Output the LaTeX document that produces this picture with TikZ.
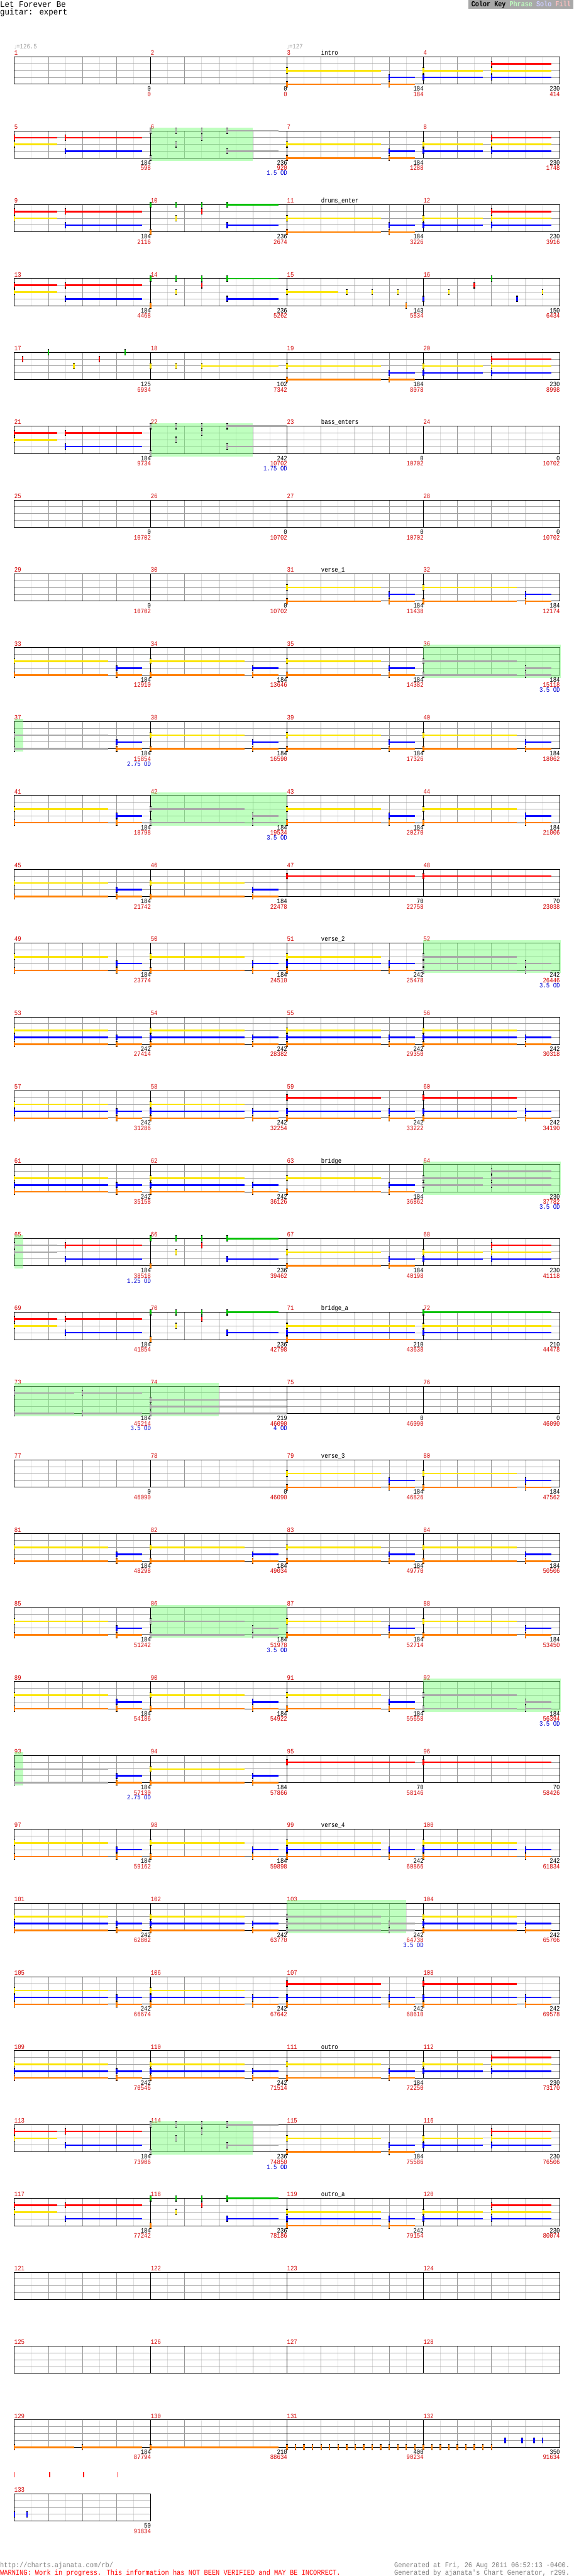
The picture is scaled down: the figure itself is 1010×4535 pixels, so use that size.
\documentclass[tikz,border=0pt]{standalone}
\usepackage{fontspec}
\setmainfont{Liberation Mono}
\newfontfamily\cf[FakeStretch=0.83]{Liberation Mono}
\newfontfamily\ff[FakeStretch=0.88]{Liberation Mono}
\newfontfamily\tf[FakeStretch=0.92]{Liberation Mono}
\newfontfamily\djv{DejaVu Sans}
\definecolor{nG}{RGB}{0,192,0}
\definecolor{nR}{RGB}{255,0,0}
\definecolor{nY}{RGB}{250,228,0}
\definecolor{nB}{RGB}{0,0,255}
\definecolor{nO}{RGB}{255,128,0}
\definecolor{kK}{RGB}{168,168,168}
\colorlet{kG}{kK}\colorlet{kR}{kK}\colorlet{kY}{kK}\colorlet{kB}{kK}\colorlet{kO}{kK}
\definecolor{gridD}{RGB}{150,150,150}
\definecolor{gridL}{RGB}{222,222,222}
\definecolor{strL}{RGB}{160,160,160}
\definecolor{numR}{RGB}{210,0,0}
\definecolor{odB}{RGB}{0,0,210}
\definecolor{tickR}{RGB}{255,0,0}
\definecolor{phr}{RGB}{128,255,128}
\definecolor{keyP}{RGB}{192,255,192}
\definecolor{keyS}{RGB}{205,205,255}
\definecolor{keyF}{RGB}{255,192,192}
\definecolor{tempoG}{RGB}{160,160,160}
\definecolor{footG}{RGB}{128,128,128}
\tikzset{
  mnum/.style={font=\cf\fontsize{12}{12}\selectfont, text=numR, anchor=base west, inner sep=0pt},
  numf/.style={font=\cf\fontsize{12}{12}\selectfont, anchor=base east, inner sep=0pt},
  seclab/.style={font=\cf\fontsize{12}{12}\selectfont, text=black, anchor=base west, inner sep=0pt},
  footf/.style={font=\ff\fontsize{13}{13}\selectfont, inner sep=0pt},
}
% note: row, col, lane, start beat, end beat, colour
\newcommand\nt[6]{%
  \pgfmathsetmacro\ntxa{25.2+240.1*#2+60.025*#4}%
  \pgfmathsetmacro\ntxb{25.2+240.1*#2+60.025*#5}%
  \pgfmathsetmacro\ntyy{100.3+130*#1+12*#3}%
  \fill[#6] (\ntxa,\ntyy-1.4) rectangle (\ntxb,\ntyy+1.4);%
  \fill[black] (\ntxa-1.3,\ntyy-5.4) rectangle (\ntxa+1.3,\ntyy+5.4);%
  \fill[#6] (\ntxa-1.3,\ntyy-4.2) rectangle (\ntxa+1.3,\ntyy+4.2);%
}
\newcommand\pA[3]{\nt{#1}{#2}{2}{0}{2.75}{#3Y}\nt{#1}{#2}{4}{0}{2.75}{#3O}\nt{#1}{#2}{3}{3}{3.75}{#3B}\nt{#1}{#2}{4}{3}{3.75}{#3O}}
\newcommand\pB[3]{\nt{#1}{#2}{2}{0}{1.75}{#3Y}\nt{#1}{#2}{3}{0}{1.75}{#3B}\nt{#1}{#2}{1}{2}{3.75}{#3R}\nt{#1}{#2}{2}{2}{3.75}{#3Y}\nt{#1}{#2}{3}{2}{3.75}{#3B}}
\newcommand\pC[3]{\nt{#1}{#2}{1}{0}{1.25}{#3R}\nt{#1}{#2}{2}{0}{1.25}{#3Y}\nt{#1}{#2}{1}{1.5}{3.75}{#3R}\nt{#1}{#2}{3}{1.5}{3.75}{#3B}}
\newcommand\pD[4]{\nt{#1}{#2}{0}{0}{0}{#3G}\nt{#1}{#2}{4}{0}{0}{#3O}\nt{#1}{#2}{0}{0.75}{0.75}{#3G}\nt{#1}{#2}{2}{0.75}{0.75}{#3Y}\nt{#1}{#2}{0}{1.5}{1.5}{#3G}\nt{#1}{#2}{1}{1.5}{1.5}{#3R}\nt{#1}{#2}{0}{2.25}{#4}{#3G}\nt{#1}{#2}{3}{2.25}{#4}{#3B}}
\newcommand\pE[3]{\pA{#1}{#2}{#3}\nt{#1}{#2}{3}{0}{2.75}{#3B}}
\newcommand\pF[3]{\nt{#1}{#2}{1}{0}{2.75}{#3R}\nt{#1}{#2}{3}{0}{2.75}{#3B}\nt{#1}{#2}{4}{0}{2.75}{#3O}\nt{#1}{#2}{3}{3}{3.75}{#3B}\nt{#1}{#2}{4}{3}{3.75}{#3O}}
\newcommand\pR[2]{\nt{#1}{#2}{1}{0}{3.75}{nR}}
% phrase highlight: row, col, start beat, end beat
\newcommand\ph[4]{%
  \pgfmathsetmacro\phxa{25.2+240.1*#2+60.025*#3}%
  \pgfmathsetmacro\phxb{25.2+240.1*#2+60.025*#4}%
  \pgfmathsetmacro\phy{100.3+130*#1}%
  \fill[phr,fill opacity=0.5] (\phxa,\phy-5.3) rectangle (\phxb,\phy+53);%
}
% numbers under measure end: row, col, black, red, od
\newcommand\nums[5]{%
  \pgfmathsetmacro\nmx{25.2+240.1*(#2+1)+0.6}%
  \pgfmathsetmacro\nmy{160.5+130*#1}%
  \node[numf] at (\nmx,\nmy) {#3};%
  \node[numf,text=numR] at (\nmx,\nmy+9.5) {#4};%
  \if\relax\detokenize{#5}\relax\else\node[numf,text=odB] at (\nmx,\nmy+18.2) {#5};\fi
}
\newcommand\slab[3]{\node[seclab] at (25.2+240.1*#2+60,97.3+130*#1) {#3};}
\newcommand\ticksfull{25.1,87.6,147.5,207.4,265.4,327.9,387.8,447.7,505.6,567.5,628.0,687.9,745.9,807.7,867.0,927.5}
% row frame: row, number of measures, tick list
\newcommand\rowfr[3]{%
  \pgfmathsetmacro\ryt{100.3+130*#1}%
  \pgfmathsetmacro\ryb{148.3+130*#1}%
  \pgfmathsetmacro\rytk{62.3+130*#1}%
  \pgfmathsetmacro\rxe{25.2+240.1*#2}%
  \pgfmathtruncatemacro\rnb{4*#2}%
  \pgfmathtruncatemacro\rnm{#2-1}%
  \foreach \tx in {#3} {\fill[tickR] (\tx-0.9,\rytk) rectangle (\tx+0.9,\rytk+8.4);}%
  \foreach \k in {1,...,\rnb} {\draw[gridL,line width=1pt] (25.2+60.025*\k-30.0125,\ryt) -- (25.2+60.025*\k-30.0125,\ryb);}%
  \foreach \k in {1,...,\rnb} {\draw[gridD,line width=1pt] (25.2+60.025*\k,\ryt) -- (25.2+60.025*\k,\ryb);}%
  \foreach \s in {12,24,36} {\draw[strL,line width=1pt] (25.2,\ryt+\s) -- (\rxe,\ryt+\s);}%
  \foreach \k in {0,...,\rnm} {%
    \pgfmathtruncatemacro\rmm{4*#1+\k+1}%
    \draw[black,line width=1pt] (25.2+240.1*\k,\ryt) -- (25.2+240.1*\k,\ryb);%
    \node[mnum] at (25.2+240.1*\k,97.3+130*#1) {\rmm};}%
  \draw[black,line width=1pt] (25.2,\ryt) rectangle (\rxe,\ryb);%
}
\begin{document}
\begin{tikzpicture}[x=1pt,y=-1pt]
\useasboundingbox (0,0) rectangle (1010,4535);
\fill[white] (0,0) rectangle (1010,4535);
% title and key
\node[font=\tf\fontsize{15}{15}\selectfont, anchor=base west, inner sep=0pt] (title) at (0,12.5) {Let Forever Be};
\node[font=\tf\fontsize{15}{15}\selectfont, anchor=base west, inner sep=0pt] (sub) at (0,26.3) {guitar: expert};
\fill[kK] (825,0) rectangle (1010,15.7);
\node[font=\cf\bfseries\fontsize{13.5}{13.5}\selectfont, anchor=base west, inner sep=0pt] (key) at (830,11.5) {Color Key \textcolor{keyP}{Phrase} \textcolor{keyS}{Solo} \textcolor{keyF}{Fill}};
% frames
\foreach \r in {0,...,32} {\rowfr{\r}{4}{\ticksfull}}
\rowfr{33}{1}{25.1,87.6,147.5,207.4}
% tempo
\node[font=\cf\fontsize{12}{12}\selectfont, text=tempoG, anchor=base west, inner sep=0pt] (t1) at (25.2,86) {{\djv\fontsize{8}{8}\selectfont ♩}=126.5};
\node[font=\cf\fontsize{12}{12}\selectfont, text=tempoG, anchor=base west, inner sep=0pt] (t2) at (505.4,86) {{\djv\fontsize{8}{8}\selectfont ♩}=127};
% section labels
\slab{0}{2}{intro}
\slab{2}{2}{drums\_enter}
\slab{5}{2}{bass\_enters}
\slab{7}{2}{verse\_1}
\slab{12}{2}{verse\_2}
\slab{15}{2}{bridge}
\slab{17}{2}{bridge\_a}
\slab{19}{2}{verse\_3}
\slab{24}{2}{verse\_4}
\slab{27}{2}{outro}
\slab{29}{2}{outro\_a}
% phrases
\ph{1}{1}{0}{3}
\ph{5}{1}{0}{3}
\ph{8}{3}{0}{4.03}
\ph{9}{0}{0}{0.27}
\ph{10}{1}{0}{4}
\ph{12}{3}{0}{4.03}
\ph{15}{3}{0}{4.03}
\ph{16}{0}{0}{0.27}
\ph{18}{0}{0}{4}\ph{18}{1}{0}{2}
\ph{21}{1}{0}{4}
\ph{22}{3}{0}{4.03}
\ph{23}{0}{0}{0.27}
\ph{25}{2}{0}{3.5}
\ph{28}{1}{0}{3}
% notes
\pA{0}{2}{n}\pB{0}{3}{n}
\pC{1}{0}{n}\pD{1}{1}{k}{3.75}\pA{1}{2}{n}\pB{1}{3}{n}
\pC{2}{0}{n}\pD{2}{1}{n}{3.75}\pA{2}{2}{n}\pB{2}{3}{n}
\pC{3}{0}{n}\pD{3}{1}{n}{3.75}
\nt{3}{2}{2}{0}{1.5}{nY}\nt{3}{2}{2}{1.75}{1.75}{nY}\nt{3}{2}{2}{2.5}{2.5}{nY}\nt{3}{2}{2}{3.25}{3.25}{nY}\nt{3}{2}{4}{3.5}{3.5}{nO}
\nt{3}{3}{3}{0}{0}{nB}\nt{3}{3}{2}{0.75}{0.75}{nY}\nt{3}{3}{1}{1.5}{1.5}{nR}\nt{3}{3}{0}{2}{2}{nG}\nt{3}{3}{3}{2.75}{2.75}{nB}\nt{3}{3}{2}{3.5}{3.5}{nY}
\nt{4}{0}{1}{0.25}{0.25}{nR}\nt{4}{0}{0}{1}{1}{nG}\nt{4}{0}{2}{1.75}{1.75}{nY}\nt{4}{0}{1}{2.5}{2.5}{nR}\nt{4}{0}{0}{3.25}{3.25}{nG}
\nt{4}{1}{2}{0}{0}{nY}\nt{4}{1}{2}{0.75}{0.75}{nY}\nt{4}{1}{2}{1.5}{3.75}{nY}
\pA{4}{2}{n}\pB{4}{3}{n}
\pC{5}{0}{n}\pD{5}{1}{k}{4}
\pA{7}{2}{n}\pA{7}{3}{n}
\pA{8}{0}{n}\pA{8}{1}{n}\pA{8}{2}{n}\pA{8}{3}{k}
\nt{9}{0}{2}{0}{2.75}{kY}\nt{9}{0}{4}{0}{2.75}{kO}\nt{9}{0}{3}{3}{3.75}{nB}\nt{9}{0}{4}{3}{3.75}{nO}
\pA{9}{1}{n}\pA{9}{2}{n}\pA{9}{3}{n}
\pA{10}{0}{n}\pA{10}{1}{k}\pA{10}{2}{n}\pA{10}{3}{n}
\pA{11}{0}{n}\pA{11}{1}{n}\pR{11}{2}\pR{11}{3}
\pA{12}{0}{n}\pA{12}{1}{n}\pE{12}{2}{n}\pE{12}{3}{k}
\pE{13}{0}{n}\pE{13}{1}{n}\pE{13}{2}{n}\pE{13}{3}{n}
\pE{14}{0}{n}\pE{14}{1}{n}\pF{14}{2}{n}\pF{14}{3}{n}
\pE{15}{0}{n}\pE{15}{1}{n}\pA{15}{2}{n}\pB{15}{3}{k}
\nt{16}{0}{1}{0}{1.25}{kR}\nt{16}{0}{2}{0}{1.25}{kY}\nt{16}{0}{1}{1.5}{3.75}{nR}\nt{16}{0}{3}{1.5}{3.75}{nB}
\pD{16}{1}{n}{3.75}\pA{16}{2}{n}\pB{16}{3}{n}
\pC{17}{0}{n}\pD{17}{1}{n}{3.75}
\nt{17}{2}{2}{0}{3.75}{nY}\nt{17}{2}{3}{0}{3.75}{nB}\nt{17}{2}{4}{0}{3.75}{nO}
\nt{17}{3}{0}{0}{3.75}{nG}\nt{17}{3}{2}{0}{3.75}{nY}\nt{17}{3}{3}{0}{3.75}{nB}
\nt{18}{0}{1}{0}{1.75}{kR}\nt{18}{0}{4}{0}{1.75}{kO}\nt{18}{0}{1}{2}{3.75}{kR}\nt{18}{0}{4}{2}{3.75}{kO}
\nt{18}{1}{2}{0}{4}{kY}\nt{18}{1}{3}{0}{4}{kB}\nt{18}{1}{4}{0}{4}{kO}
\pA{19}{2}{n}\pA{19}{3}{n}
\pA{20}{0}{n}\pA{20}{1}{n}\pA{20}{2}{n}\pA{20}{3}{n}
\pA{21}{0}{n}\pA{21}{1}{k}\pA{21}{2}{n}\pA{21}{3}{n}
\pA{22}{0}{n}\pA{22}{1}{n}\pA{22}{2}{n}\pA{22}{3}{k}
\nt{23}{0}{2}{0}{2.75}{kY}\nt{23}{0}{4}{0}{2.75}{kO}\nt{23}{0}{3}{3}{3.75}{nB}\nt{23}{0}{4}{3}{3.75}{nO}
\pA{23}{1}{n}\pR{23}{2}\pR{23}{3}
\pA{24}{0}{n}\pA{24}{1}{n}\pE{24}{2}{n}\pE{24}{3}{n}
\pE{25}{0}{n}\pE{25}{1}{n}\pE{25}{2}{k}\pE{25}{3}{n}
\pE{26}{0}{n}\pE{26}{1}{n}\pF{26}{2}{n}\pF{26}{3}{n}
\pE{27}{0}{n}\pE{27}{1}{n}\pA{27}{2}{n}\pB{27}{3}{n}
\pC{28}{0}{n}\pD{28}{1}{k}{3.75}\pA{28}{2}{n}\pB{28}{3}{n}
\pC{29}{0}{n}\pD{29}{1}{n}{3.75}\pE{29}{2}{n}\pB{29}{3}{n}
% row 32
\nt{32}{0}{4}{0}{1.75}{nO}\nt{32}{0}{4}{2}{3.75}{nO}\nt{32}{1}{4}{0}{3.75}{nO}
\foreach \q in {0,0.25,...,4.9} {\nt{32}{2}{4}{\q}{\q}{nO}}
\foreach \q in {0,0.25,...,2.1} {\nt{32}{3}{4}{\q}{\q}{nO}}
\foreach \q in {2.4,2.9,3.25,3.5} {\nt{32}{3}{3}{\q}{\q}{nB}}
\nt{33}{0}{3}{0}{0}{nB}\nt{33}{0}{3}{0.375}{0.375}{nB}
% numbers
\nums{0}{0}{0}{0}{}\nums{0}{1}{0}{0}{}\nums{0}{2}{184}{184}{}\nums{0}{3}{230}{414}{}
\nums{1}{0}{184}{598}{}\nums{1}{1}{236}{920}{1.5 OD}\nums{1}{2}{184}{1288}{}\nums{1}{3}{230}{1748}{}
\nums{2}{0}{184}{2116}{}\nums{2}{1}{236}{2674}{}\nums{2}{2}{184}{3226}{}\nums{2}{3}{230}{3916}{}
\nums{3}{0}{184}{4468}{}\nums{3}{1}{236}{5262}{}\nums{3}{2}{143}{5834}{}\nums{3}{3}{150}{6434}{}
\nums{4}{0}{125}{6934}{}\nums{4}{1}{102}{7342}{}\nums{4}{2}{184}{8078}{}\nums{4}{3}{230}{8998}{}
\nums{5}{0}{184}{9734}{}\nums{5}{1}{242}{10702}{1.75 OD}\nums{5}{2}{0}{10702}{}\nums{5}{3}{0}{10702}{}
\nums{6}{0}{0}{10702}{}\nums{6}{1}{0}{10702}{}\nums{6}{2}{0}{10702}{}\nums{6}{3}{0}{10702}{}
\nums{7}{0}{0}{10702}{}\nums{7}{1}{0}{10702}{}\nums{7}{2}{184}{11438}{}\nums{7}{3}{184}{12174}{}
\nums{8}{0}{184}{12910}{}\nums{8}{1}{184}{13646}{}\nums{8}{2}{184}{14382}{}\nums{8}{3}{184}{15118}{3.5 OD}
\nums{9}{0}{184}{15854}{2.75 OD}\nums{9}{1}{184}{16590}{}\nums{9}{2}{184}{17326}{}\nums{9}{3}{184}{18062}{}
\nums{10}{0}{184}{18798}{}\nums{10}{1}{184}{19534}{3.5 OD}\nums{10}{2}{184}{20270}{}\nums{10}{3}{184}{21006}{}
\nums{11}{0}{184}{21742}{}\nums{11}{1}{184}{22478}{}\nums{11}{2}{70}{22758}{}\nums{11}{3}{70}{23038}{}
\nums{12}{0}{184}{23774}{}\nums{12}{1}{184}{24510}{}\nums{12}{2}{242}{25478}{}\nums{12}{3}{242}{26446}{3.5 OD}
\nums{13}{0}{242}{27414}{}\nums{13}{1}{242}{28382}{}\nums{13}{2}{242}{29350}{}\nums{13}{3}{242}{30318}{}
\nums{14}{0}{242}{31286}{}\nums{14}{1}{242}{32254}{}\nums{14}{2}{242}{33222}{}\nums{14}{3}{242}{34190}{}
\nums{15}{0}{242}{35158}{}\nums{15}{1}{242}{36126}{}\nums{15}{2}{184}{36862}{}\nums{15}{3}{230}{37782}{3.5 OD}
\nums{16}{0}{184}{38518}{1.25 OD}\nums{16}{1}{236}{39462}{}\nums{16}{2}{184}{40198}{}\nums{16}{3}{230}{41118}{}
\nums{17}{0}{184}{41854}{}\nums{17}{1}{236}{42798}{}\nums{17}{2}{210}{43638}{}\nums{17}{3}{210}{44478}{}
\nums{18}{0}{184}{45214}{3.5 OD}\nums{18}{1}{219}{46090}{4 OD}\nums{18}{2}{0}{46090}{}\nums{18}{3}{0}{46090}{}
\nums{19}{0}{0}{46090}{}\nums{19}{1}{0}{46090}{}\nums{19}{2}{184}{46826}{}\nums{19}{3}{184}{47562}{}
\nums{20}{0}{184}{48298}{}\nums{20}{1}{184}{49034}{}\nums{20}{2}{184}{49770}{}\nums{20}{3}{184}{50506}{}
\nums{21}{0}{184}{51242}{}\nums{21}{1}{184}{51978}{3.5 OD}\nums{21}{2}{184}{52714}{}\nums{21}{3}{184}{53450}{}
\nums{22}{0}{184}{54186}{}\nums{22}{1}{184}{54922}{}\nums{22}{2}{184}{55658}{}\nums{22}{3}{184}{56394}{3.5 OD}
\nums{23}{0}{184}{57130}{2.75 OD}\nums{23}{1}{184}{57866}{}\nums{23}{2}{70}{58146}{}\nums{23}{3}{70}{58426}{}
\nums{24}{0}{184}{59162}{}\nums{24}{1}{184}{59898}{}\nums{24}{2}{242}{60866}{}\nums{24}{3}{242}{61834}{}
\nums{25}{0}{242}{62802}{}\nums{25}{1}{242}{63770}{}\nums{25}{2}{242}{64738}{3.5 OD}\nums{25}{3}{242}{65706}{}
\nums{26}{0}{242}{66674}{}\nums{26}{1}{242}{67642}{}\nums{26}{2}{242}{68610}{}\nums{26}{3}{242}{69578}{}
\nums{27}{0}{242}{70546}{}\nums{27}{1}{242}{71514}{}\nums{27}{2}{184}{72250}{}\nums{27}{3}{230}{73170}{}
\nums{28}{0}{184}{73906}{}\nums{28}{1}{236}{74850}{1.5 OD}\nums{28}{2}{184}{75586}{}\nums{28}{3}{230}{76506}{}
\nums{29}{0}{184}{77242}{}\nums{29}{1}{236}{78186}{}\nums{29}{2}{242}{79154}{}\nums{29}{3}{230}{80074}{}
\nums{32}{0}{184}{87794}{}\nums{32}{1}{210}{88634}{}\nums{32}{2}{400}{90234}{}\nums{32}{3}{350}{91634}{}
\nums{33}{0}{50}{91834}{}
% footer
\node[footf, text=footG, anchor=base west] (url) at (0,4520) {http://charts.ajanata.com/rb/};
\node[footf, text=nR, anchor=base west] (warn) at (0,4533.5) {WARNING: Work in progress. This information has NOT BEEN VERIFIED and MAY BE INCORRECT.};
\node[footf, text=footG, anchor=base east] (gen1) at (1003.5,4520) {Generated at Fri, 26 Aug 2011 06:52:13 -0400.};
\node[footf, text=footG, anchor=base east] (gen2) at (1003.5,4533.5) {Generated by ajanata's Chart Generator, r299.};
\end{tikzpicture}
\end{document}
